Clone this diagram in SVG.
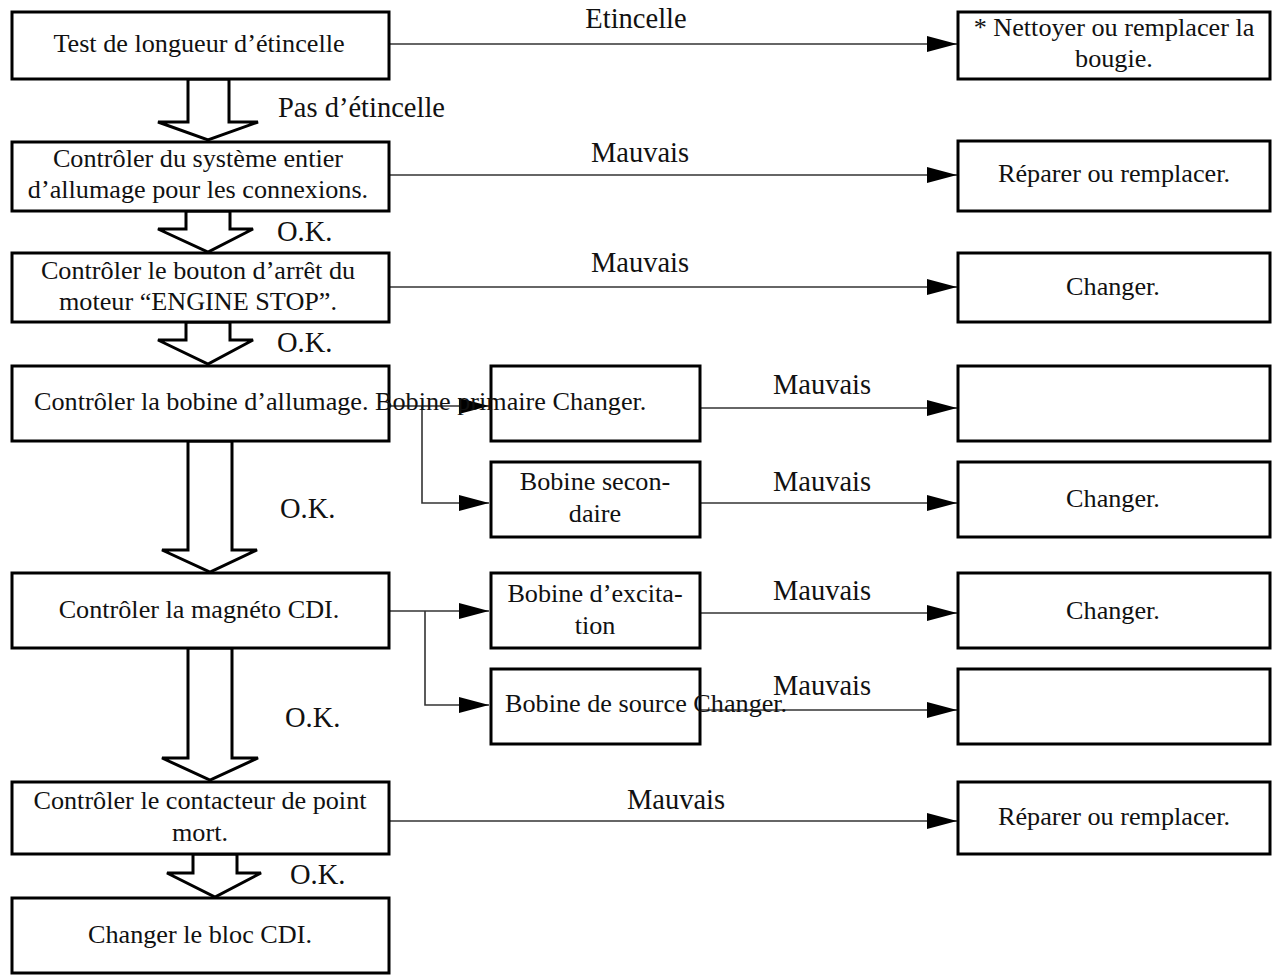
<svg xmlns="http://www.w3.org/2000/svg" width="1276" height="979" viewBox="0 0 1276 979">
<defs>
<marker id="ah" markerWidth="30" markerHeight="16" refX="30" refY="8" orient="auto" markerUnits="userSpaceOnUse">
<path d="M0,0 L30,8 L0,16 Z" fill="#000"/>
</marker>
<style>
.box{fill:#fff;stroke:#000;stroke-width:3}
.t{font-family:"Liberation Serif","Times New Roman",serif;font-size:26.2px;fill:#111;text-anchor:middle}
.tl{font-family:"Liberation Serif","Times New Roman",serif;font-size:26.2px;fill:#111}
.lbl{font-family:"Liberation Serif","Times New Roman",serif;font-size:28.5px;fill:#111}
.lc{font-family:"Liberation Serif","Times New Roman",serif;font-size:28.5px;fill:#111;text-anchor:middle}
.ln{fill:none;stroke:#333;stroke-width:1.6}
.ha{fill:#fff;stroke:#000;stroke-width:3;stroke-linejoin:miter}
</style>
</defs>
<rect width="1276" height="979" fill="#fff"/>

<g id="connectors">
<line class="ln" x1="389" y1="44" x2="957" y2="44" marker-end="url(#ah)"/>
<line class="ln" x1="389" y1="175" x2="957" y2="175" marker-end="url(#ah)"/>
<line class="ln" x1="389" y1="287" x2="957" y2="287" marker-end="url(#ah)"/>
<line class="ln" x1="389" y1="406" x2="489" y2="406" marker-end="url(#ah)"/>
<polyline class="ln" points="422,406 422,503 489,503" marker-end="url(#ah)"/>
<line class="ln" x1="700" y1="408" x2="957" y2="408" marker-end="url(#ah)"/>
<line class="ln" x1="700" y1="503" x2="957" y2="503" marker-end="url(#ah)"/>
<line class="ln" x1="389" y1="611" x2="489" y2="611" marker-end="url(#ah)"/>
<polyline class="ln" points="425,611 425,705 489,705" marker-end="url(#ah)"/>
<line class="ln" x1="700" y1="613" x2="957" y2="613" marker-end="url(#ah)"/>
<line class="ln" x1="700" y1="710" x2="957" y2="710" marker-end="url(#ah)"/>
<line class="ln" x1="389" y1="821" x2="957" y2="821" marker-end="url(#ah)"/>

<polygon class="ha" points="188,79 188,122 158,122 208,140 258,122 229,122 229,79"/>
<polygon class="ha" points="186,211 186,229 158,229 208,252 253,229 230,229 230,211"/>
<polygon class="ha" points="186,322 186,340 158,340 208,364 253,340 230,340 230,322"/>
<polygon class="ha" points="188,441 188,550 162,550 210,572 257,550 232,550 232,441"/>
<polygon class="ha" points="188,648 188,758 162,758 210,780 258,758 232,758 232,648"/>
<polygon class="ha" points="193,854 193,873 167,873 215,897 261,873 237,873 237,854"/>

<text class="lc" x="636" y="28">Etincelle</text>
<text class="lbl" x="278" y="117">Pas d’étincelle</text>
<text class="lc" x="640" y="162">Mauvais</text>
<text class="lbl" x="277" y="241">O.K.</text>
<text class="lc" x="640" y="272">Mauvais</text>
<text class="lbl" x="277" y="352">O.K.</text>
<text class="lc" x="822" y="394">Mauvais</text>
<text class="lc" x="822" y="491">Mauvais</text>
<text class="lbl" x="280" y="518">O.K.</text>
<text class="lc" x="822" y="600">Mauvais</text>
<text class="lc" x="822" y="695">Mauvais</text>
<text class="lbl" x="285" y="727">O.K.</text>
<text class="lc" x="676" y="809">Mauvais</text>
<text class="lbl" x="290" y="884">O.K.</text>
</g>

<g id="n1"><rect class="box" x="12" y="12" width="377" height="67"/><text class="t" x="199" y="52">Test de longueur d’étincelle</text></g>
<g id="n2"><rect class="box" x="12" y="142" width="377" height="69"/><text class="t" x="198" y="167">Contrôler du système entier</text><text class="t" x="198" y="198">d’allumage pour les connexions.</text></g>
<g id="n3"><rect class="box" x="12" y="253" width="377" height="69"/><text class="t" x="198" y="279">Contrôler le bouton d’arrêt du</text><text class="t" x="198" y="310">moteur “ENGINE STOP”.</text></g>
<g id="n4"><rect class="box" x="12" y="366" width="377" height="75"/></g>
<g id="n5"><rect class="box" x="12" y="573" width="377" height="75"/><text class="t" x="199" y="618">Contrôler la magnéto CDI.</text></g>
<g id="n6"><rect class="box" x="12" y="782" width="377" height="72"/><text class="t" x="200" y="809">Contrôler le contacteur de point</text><text class="t" x="200" y="841">mort.</text></g>
<g id="n7"><rect class="box" x="12" y="898" width="377" height="75"/><text class="t" x="200" y="943">Changer le bloc CDI.</text></g>

<g id="m1"><rect class="box" x="491" y="366" width="209" height="75"/></g>
<g id="m2"><rect class="box" x="491" y="462" width="209" height="75"/><text class="t" x="595" y="490">Bobine secon-</text><text class="t" x="595" y="522">daire</text></g>
<g id="m3"><rect class="box" x="491" y="573" width="209" height="75"/><text class="t" x="595" y="602">Bobine d’excita-</text><text class="t" x="595" y="634">tion</text></g>
<g id="m4"><rect class="box" x="491" y="669" width="209" height="75"/></g>

<g id="r1"><rect class="box" x="958" y="12" width="312" height="67"/><text class="t" x="1114" y="36">* Nettoyer ou remplacer la</text><text class="t" x="1114" y="67">bougie.</text></g>
<g id="r2"><rect class="box" x="958" y="141" width="312" height="70"/><text class="t" x="1114" y="182">Réparer ou remplacer.</text></g>
<g id="r3"><rect class="box" x="958" y="253" width="312" height="69"/><text class="t" x="1113" y="295">Changer.</text></g>
<g id="r4"><rect class="box" x="958" y="366" width="312" height="75"/></g>
<g id="r5"><rect class="box" x="958" y="462" width="312" height="75"/><text class="t" x="1113" y="507">Changer.</text></g>
<g id="r6"><rect class="box" x="958" y="573" width="312" height="75"/><text class="t" x="1113" y="619">Changer.</text></g>
<g id="r7"><rect class="box" x="958" y="669" width="312" height="75"/></g>
<g id="r8"><rect class="box" x="958" y="782" width="312" height="72"/><text class="t" x="1114" y="825">Réparer ou remplacer.</text></g>

<g id="overflow-text">
<text class="tl" x="34" y="410">Contrôler la bobine d’allumage. Bobine primaire Changer.</text>
<text class="tl" x="505" y="712">Bobine de source Changer.</text>
</g>
</svg>
